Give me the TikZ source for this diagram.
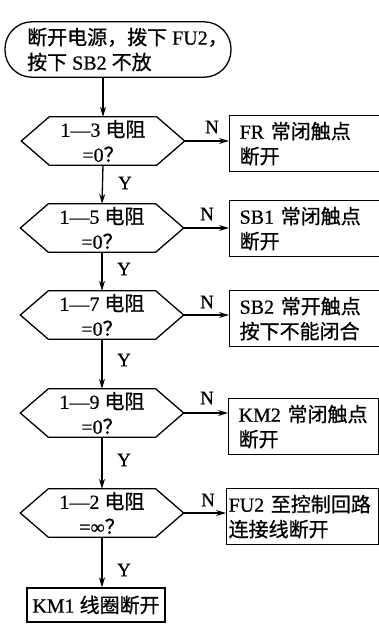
\documentclass[tikz,border=0pt]{standalone}
\usepackage{fontspec}
\setmainfont{Liberation Serif}[FakeBold=0.6]
\newfontfamily\cjk{Noto Sans CJK SC}[FakeBold=0.8]
\usetikzlibrary{arrows.meta,calc}
\begin{document}
\begin{tikzpicture}[x=1pt,y=-1pt,
  every node/.style={font=\fontsize{20}{25}\selectfont},
  ln/.style={line width=1.3pt},
  arr/.style={ln,-{Stealth[length=10pt,width=6pt]}},
  starttext/.style={minimum height=55pt,align=left,inner sep=0pt,anchor=west},
  decbox/.style={minimum width=163pt,minimum height=48pt,inner sep=0pt,align=center},
  resbox/.style={draw,ln,minimum width=150pt,minimum height=56pt,text width=130pt,inner xsep=10pt,inner ysep=0pt,align=left,anchor=north west},
  lab/.style={inner sep=0pt,font=\fontsize{19}{22}\selectfont}
]
\useasboundingbox (0,0) rectangle (379,624);
\newcommand{\hexa}[1]{\draw[ln] (#1.west) -- ($(#1.north west)+(28,0)$) -- ($(#1.north east)+(-28,0)$) -- (#1.east) -- ($(#1.south east)+(-28,0)$) -- ($(#1.south west)+(28,0)$) -- cycle;}

\node[starttext] (s) at (27,49.5) {{\cjk 断开电源，拨下} FU2{\cjk ，}\\{\cjk 按下} SB2 {\cjk 不放}};
\draw[ln,rounded corners=27pt] ($(s.north west)+(-22,0)$) rectangle ($(s.south east)+(3,0)$);

\node[decbox] (d1) at (103,141) {1—3 {\cjk 电阻}\\=0{\cjk ？}};
\node[decbox] (d2) at (102,228) {1—5 {\cjk 电阻}\\=0{\cjk ？}};
\node[decbox] (d3) at (102,315) {1—7 {\cjk 电阻}\\=0{\cjk ？}};
\node[decbox] (d4) at (102,413) {1—9 {\cjk 电阻}\\=0{\cjk ？}};
\node[decbox] (d5) at (102,513) {1—2 {\cjk 电阻}\\=∞{\cjk ？}};
\hexa{d1}\hexa{d2}\hexa{d3}\hexa{d4}\hexa{d5}

\node[resbox] (r1) at (229,115) {FR {\cjk 常闭触点}\\{\cjk 断开}};
\node[resbox] (r2) at (229,200) {SB1 {\cjk 常闭触点}\\{\cjk 断开}};
\node[resbox] (r3) at (229,290) {SB2 {\cjk 常开触点}\\{\cjk 按下不能闭合}};
\node[resbox] (r4) at (228,398) {KM2 {\cjk 常闭触点}\\{\cjk 断开}};
\node[resbox,minimum width=152pt,inner xsep=2pt,text width=148pt] (r5) at (226,488) {FU2 {\cjk 至控制回路}\\{\cjk 连接线断开}};

\node[draw,ln,minimum width=138pt,minimum height=34pt,inner sep=0pt] (e) at (96,605) {KM1 {\cjk 线圈断开}};

\draw[arr] (s.south -| d1.north) -- (d1.north);
\draw[arr] (d1.south) -- (d2.south |- d2.north);
\draw[arr] (d2.south) -- (d3.north);
\draw[arr] (d3.south) -- (d4.north);
\draw[arr] (d4.south) -- (d5.north);
\draw[arr] (d5.south) -- (d5.south |- e.north);

\foreach \i in {1,...,5}{\draw[arr] (d\i.east) -- (d\i.east -| r\i.west);}

\node[lab] (n1) at (212,127) {N};
\node[lab] (n2) at (207,214) {N};
\node[lab] (n3) at (207,302) {N};
\node[lab] (n4) at (207,398) {N};
\node[lab] (n5) at (208,500) {N};
\node[lab] (y1) at (125,183) {Y};
\node[lab] (y2) at (124,269) {Y};
\node[lab] (y3) at (124,360) {Y};
\node[lab] (y4) at (124,460) {Y};
\node[lab] (y5) at (124,570) {Y};
\end{tikzpicture}
\end{document}
